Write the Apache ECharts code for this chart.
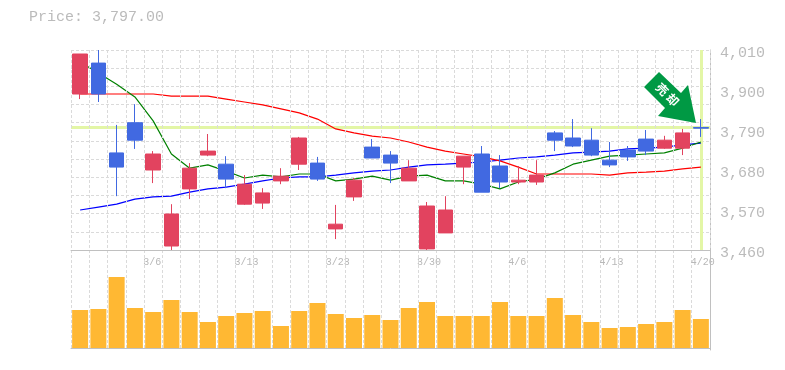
<!DOCTYPE html>
<html>
<head>
<meta charset="utf-8">
<style>html,body{margin:0;padding:0;background:#fff}#c{width:785px;height:370px}</style>
<script src="https://cdn.jsdelivr.net/npm/echarts@6/dist/echarts.min.js"></script>
</head>
<body>
<div id="c"></div>
<script>
const categories = ['3/2','3/3','3/4','3/5','3/6','3/9','3/10','3/11','3/12','3/13','3/16','3/17','3/18','3/19','3/23','3/24','3/25','3/26','3/27','3/30','3/31','4/1','4/2','4/3','4/6','4/7','4/8','4/9','4/10','4/13','4/14','4/15','4/16','4/17','4/20'];
const shownDates = ['3/6','3/13','3/23','3/30','4/6','4/13','4/20'];
const priceTicks = [3460,3570,3680,3790,3900,4010];
const gridTicks = [3460,3510,3560,3610,3660,3710,3760,3810,3860,3910,3960,4010];
const opens = [3999,3889,3688,3762,3724,3559,3685,3732,3655,3641,3617,3663,3768,3655,3531,3652,3713,3699,3685,3581,3570,3718,3619,3647,3652,3666,3762,3746,3721,3694,3716,3732,3762,3782,3795];
const closes = [3889,3974,3727,3810,3680,3471,3628,3721,3696,3586,3589,3650,3696,3699,3518,3606,3743,3721,3650,3463,3507,3688,3724,3691,3647,3647,3782,3768,3762,3707,3735,3765,3740,3740,3797];
const lows = [3875,3867,3608,3738,3644,3460,3600,3718,3630,3584,3573,3641,3680,3650,3490,3595,3713,3644,3650,3460,3507,3641,3619,3630,3641,3639,3732,3743,3718,3688,3705,3721,3738,3721,3771];
const highs = [3999,4010,3804,3861,3732,3586,3699,3779,3718,3666,3630,3685,3771,3716,3584,3658,3765,3732,3707,3592,3608,3718,3746,3721,3691,3707,3787,3820,3795,3757,3746,3790,3774,3793,3820];
const ma5 = [3977,3947,3916,3881,3815,3724,3685,3694,3677,3658,3666,3661,3669,3669,3650,3655,3663,3652,3663,3666,3650,3650,3641,3628,3647,3655,3672,3696,3707,3718,3721,3724,3727,3740,3757];
const ma25 = [3889,3889,3889,3889,3889,3883,3883,3883,3875,3867,3859,3848,3837,3820,3793,3782,3773,3768,3757,3743,3732,3724,3716,3705,3688,3669,3669,3669,3669,3666,3672,3674,3677,3683,3688];
const ma75 = [3570,3578,3586,3600,3606,3608,3619,3628,3633,3641,3650,3658,3661,3661,3666,3672,3677,3680,3688,3694,3696,3699,3702,3707,3713,3716,3721,3727,3729,3732,3738,3740,3743,3749,3754];
const volumes = [38,39,71,40,36,48,36,26,32,35,37,22,37,45,34,30,33,28,40,46,32,32,32,46,32,32,50,33,26,20,21,24,26,38,29];
const lastPrice = 3797;

const MONO = '"Liberation Mono", monospace';
const RED = '#e2435f', BLUE = '#4169e1', YEL = '#e3f6a6';
const dash = {color:'#dadada', width:1, type:[3,2]};
const solid = {color:'#c0c0c0', width:1};

const chart = echarts.init(document.getElementById('c'), null, {renderer:'canvas'});
chart.setOption({
  animation:false,
  backgroundColor:'#fff',
  title:{text:'Price: 3,797.00', left:29, top:10, padding:0, textStyle:{fontFamily:MONO, fontSize:15, fontWeight:'normal', color:'#bbbbbb'}},
  grid:[{left:71, right:75, top:50, height:200},{left:71, right:75, top:250, height:100}],
  xAxis:[
    {type:'category', gridIndex:0, data:categories, boundaryGap:true, z:4,
     axisLine:{show:true, lineStyle:solid}, axisTick:{show:false, interval:0},
     splitLine:{show:true, interval:0, lineStyle:dash},
     axisLabel:{show:true, interval:(i)=>shownDates.includes(categories[i]), margin:7, align:'left', padding:[0,0,0,-10],
       hideOverlap:false, fontFamily:MONO, fontSize:10, color:'#b8b8b8'}},
    {type:'category', gridIndex:1, data:categories, boundaryGap:true,
     axisLine:{show:true, lineStyle:solid}, axisTick:{show:false, interval:0},
     splitLine:{show:true, interval:0, lineStyle:dash}, axisLabel:{show:false}}
  ],
  yAxis:[
    {type:'value', gridIndex:0, position:'right', min:3460, max:4010,
     axisLine:{show:true, lineStyle:solid}, axisTick:{show:false, customValues:gridTicks},
     splitLine:{show:true, lineStyle:dash},
     axisLabel:{show:true, customValues:priceTicks, margin:10, align:'left', verticalAlign:'top', lineHeight:7, showMinLabel:true, showMaxLabel:true,
       hideOverlap:false, fontFamily:MONO, fontSize:15, color:'#bbbbbb',
       formatter:(v)=>Number(v).toLocaleString('en-US')}},
    {type:'value', gridIndex:1, position:'right', min:-2, max:98,
     axisLine:{show:true, lineStyle:solid}, axisTick:{show:false}, splitLine:{show:false}, axisLabel:{show:false}}
  ],
  series:[
    {type:'line', name:'ma75', xAxisIndex:0, yAxisIndex:0, data:ma75, symbol:'none', z:2, lineStyle:{color:'#0000ff', width:1.2},
     markLine:{silent:true, symbol:'none', z:1, label:{show:false}, animation:false,
       lineStyle:{color:YEL, width:3, type:'solid'},
       data:[{yAxis:lastPrice},{xAxis:categories.length-1}]}},
    {type:'line', name:'ma25', xAxisIndex:0, yAxisIndex:0, data:ma25, symbol:'none', z:2, lineStyle:{color:'#ff0000', width:1.2}},
    {type:'line', name:'ma5', xAxisIndex:0, yAxisIndex:0, data:ma5, symbol:'none', z:2, lineStyle:{color:'#008000', width:1.2}},
    {type:'candlestick', name:'price', xAxisIndex:0, yAxisIndex:0, barWidth:15, z:3,
     data:categories.map((c,i)=>[opens[i],closes[i],lows[i],highs[i]]),
     itemStyle:{color:BLUE, color0:RED, borderColor:BLUE, borderColor0:RED, borderWidth:1}},
    {type:'bar', name:'volume', xAxisIndex:1, yAxisIndex:1, data:volumes, barWidth:16, z:3, itemStyle:{color:'#ffb833'}}
  ],
  graphic:[
    {type:'polygon', z:50, shape:{points:[[659,72],[644,87],[665,108],[658,116],[696,123],[688,85],[681,93]]}, style:{fill:'#009944'}},
    {type:'text', z:51, x:667.5, y:94.5, rotation:-Math.PI/4, style:{text:'売 却', fill:'#fff', align:'center', verticalAlign:'middle',
      font:'bold 12px "Noto Sans CJK JP"'}}
  ]
});
</script>
</body>
</html>
